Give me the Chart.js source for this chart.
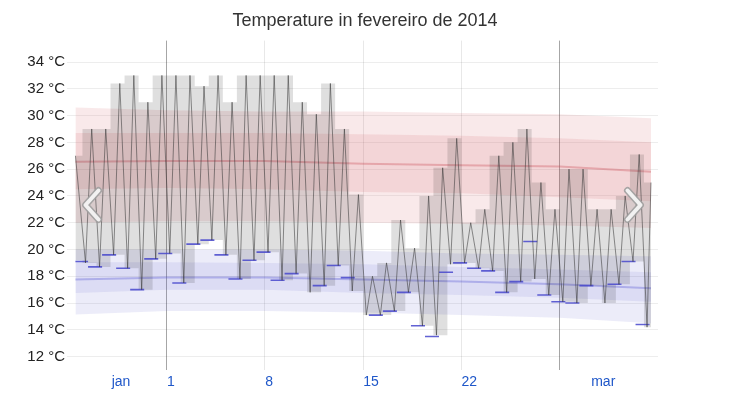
<!DOCTYPE html>
<html>
<head>
<meta charset="utf-8">
<script src="https://cdn.jsdelivr.net/npm/chart.js@4.4.1/dist/chart.umd.min.js"></script>
<style>
  html, body { margin: 0; padding: 0; background: #fff; }
  #wrap { width: 730px; height: 399px; }
</style>
</head>
<body>
<div id="wrap"><canvas id="chart" width="730" height="399"></canvas></div>
<script>
// x values are days counted from 1 Feb 2014 00:00; first list entry is 25 Jan
const firstDay = -7
const dataStart = -6.5
const dataEnd = 34.5

// daily range of reported temperatures (gray bars), °C, 25 Jan .. 7 Mar
const dayHigh = [27.0, 29.0, 29.0, 32.4, 33.0, 31.0, 33.0,
  33.0, 33.0, 32.2, 33.0, 31.0, 33.0, 33.0,
  33.0, 33.0, 31.0, 30.1, 32.4, 29.0, 24.1,
  18.0, 19.0, 22.2, 20.1, 24.0, 26.1, 28.3,
  22.0, 23.0, 27.0, 28.0, 29.0, 25.0, 23.0,
  26.0, 26.0, 23.0, 23.0, 24.0, 27.1, 25.0]
const dayLow = [19.2, 19.0, 18.7, 19.6, 18.6, 17.0, 19.3,
  19.7, 17.5, 20.4, 20.7, 19.6, 17.8, 19.2,
  19.8, 17.7, 18.2, 16.8, 17.3, 18.8, 16.9,
  15.1, 15.1, 15.4, 16.8, 14.3, 13.6, 18.9,
  19.0, 18.6, 18.4, 16.8, 17.6, 17.8, 16.6,
  16.1, 16.0, 17.3, 16.0, 17.4, 19.1, 14.2]

// 24-hour lows (blue ticks), one per window starting 25 Jan; null = none shown
const low24 = [19.1, 18.7, 19.6, 18.6, 17.0, 19.3, 19.7,
  17.5, 20.4, 20.7, 19.6, 17.8, 19.2, 19.8,
  17.7, 18.2, null, 17.3, 18.8, 17.9, null,
  15.1, 15.4, 16.8, 14.3, 13.5, 18.3, 19.0,
  18.6, 18.4, 16.8, 17.6, 20.6, 16.6, 16.1,
  16.0, 17.3, null, 17.4, 19.1, 14.4]
const lowWindowStart = 0.4

// average high / low with 25-75 and 10-90 percentile bands, read weekly
const normalDays = [-6.5, 0, 7, 14, 21, 28, 34.5]
const highP90 = [30.6, 30.4, 30.3, 30.3, 30.2, 30.1, 29.8]
const highP75 = [28.7, 28.7, 28.7, 28.6, 28.5, 28.3, 28.0]
const highAvg = [26.55, 26.6, 26.6, 26.4, 26.3, 26.2, 25.8]
const highP25 = [24.5, 24.6, 24.5, 24.3, 24.2, 23.9, 23.6]
const highP10 = [22.0, 22.1, 22.1, 22.0, 21.9, 21.8, 21.6]
const lowP90 = [20.0, 20.0, 20.0, 19.9, 19.7, 19.6, 19.5]
const lowP75 = [19.05, 19.05, 19.0, 18.9, 18.7, 18.5, 18.3]
const lowAvg = [17.75, 17.9, 17.9, 17.75, 17.6, 17.4, 17.1]
const lowP25 = [16.75, 17.0, 17.0, 16.75, 16.6, 16.4, 16.1]
const lowP10 = [15.15, 15.4, 15.4, 15.3, 15.1, 14.9, 14.5]

const yTicks = [12, 14, 16, 18, 20, 22, 24, 26, 28, 30, 32, 34]
const xLabels = ['jan', '1', '8', '15', '22', 'mar']
const xLabelDays = [-3.25, 0.3, 7.3, 14.55, 21.55, 31.1]
const weekLines = [7, 14, 21]
const monthLines = [0, 28]

// hourly trace: morning low and afternoon high of each day
const lowHour = 0.22
const highHour = 0.66
const hourly = []
dayHigh.forEach((h, i) => {
  const d = firstDay + i
  const tLow = d + lowHour
  const tHigh = d + highHour
  if (tLow >= dataStart) hourly.push({x: tLow, y: dayLow[i]})
  else hourly.push({x: dataStart, y: h})
  if (tLow >= dataStart) hourly.push({x: Math.min(tHigh, dataEnd), y: h})
})

const stepPoints = (vals) => {
  const pts = vals.map((v, i) => ({x: Math.max(firstDay + i, dataStart), y: v}))
  pts.push({x: dataEnd, y: vals[vals.length - 1]})
  return pts
}

const lowTicks = []
low24.forEach((v, i) => {
  if (v === null) return
  const s = firstDay + i + lowWindowStart
  lowTicks.push({x: Math.max(s, dataStart), y: v}, {x: s + 1, y: v}, {x: s + 1, y: null})
})

const normal = (vals) => vals.map((v, i) => ({x: normalDays[i], y: v}))

const redBand = 'rgba(205, 70, 80, 0.12)'
const blueBand = 'rgba(80, 80, 200, 0.11)'
const font = '"Liberation Sans", Arial, sans-serif'

const band = (vals, fillTo, color, order) => ({
  data: normal(vals), borderWidth: 0, pointRadius: 0,
  fill: fillTo === null ? false : fillTo, backgroundColor: color, order: order
})

const arrows = {
  id: 'arrows',
  afterDraw(chart) {
    const ctx = chart.ctx
    const draw = (pts) => {
      ctx.save()
      ctx.lineJoin = 'round'
      ctx.lineCap = 'round'
      ctx.beginPath()
      pts.forEach(([x, y], i) => i ? ctx.lineTo(x, y) : ctx.moveTo(x, y))
      ctx.strokeStyle = 'rgba(160,160,160,0.9)'
      ctx.lineWidth = 7
      ctx.stroke()
      ctx.strokeStyle = 'rgba(255,255,255,0.85)'
      ctx.lineWidth = 4
      ctx.stroke()
      ctx.restore()
    }
    draw([[98.5, 190.5], [85.5, 205], [98.5, 219.5]])
    draw([[627.5, 190.5], [640.5, 205], [627.5, 219.5]])
  }
}

const ctx = document.getElementById('chart').getContext('2d')
const myChart = new Chart(ctx, {
  type: 'line',
  data: {
    datasets: [
      // 0 hourly temperature
      { data: hourly, borderColor: 'rgba(55,55,55,0.55)', borderWidth: 1, pointRadius: 0, order: 0 },
      // 1 24-hour lows
      { data: lowTicks, borderColor: 'rgba(70,70,205,0.85)', borderWidth: 1.6, pointRadius: 0, spanGaps: false, order: 1 },
      // 2,3 daily range
      { data: stepPoints(dayHigh), stepped: true, borderWidth: 0, pointRadius: 0, fill: false, order: 2 },
      { data: stepPoints(dayLow), stepped: true, borderWidth: 0, pointRadius: 0, fill: 2,
        backgroundColor: 'rgba(0,0,0,0.125)', order: 2 },
      // 4,5 average high / low
      { data: normal(highAvg), borderColor: 'rgba(200,70,80,0.33)', borderWidth: 2, pointRadius: 0, order: 3 },
      { data: normal(lowAvg), borderColor: 'rgba(80,80,210,0.33)', borderWidth: 2, pointRadius: 0, order: 3 },
      // 6..9 high bands
      band(highP75, null, redBand, 4),
      band(highP25, 6, redBand, 4),
      band(highP90, null, redBand, 5),
      band(highP10, 8, redBand, 5),
      // 10..13 low bands
      band(lowP75, null, blueBand, 4),
      band(lowP25, 10, blueBand, 4),
      band(lowP90, null, blueBand, 5),
      band(lowP10, 12, blueBand, 5)
    ]
  },
  options: {
    responsive: false,
    animation: false,
    layout: { padding: 0 },
    plugins: {
      legend: { display: false },
      tooltip: { enabled: false },
      title: {
        display: true,
        text: 'Temperature in fevereiro de 2014',
        color: '#333',
        font: { family: font, size: 18, weight: 'normal' },
        padding: { top: 10, bottom: 9 }
      }
    },
    scales: {
      x: {
        type: 'linear',
        min: -7.1,
        max: 35.0,
        border: { display: false },
        afterBuildTicks: (scale) => {
          const t = xLabelDays.map(v => ({value: v}))
            .concat(weekLines.concat(monthLines).map(v => ({value: v})))
          t.sort((a, b) => a.value - b.value)
          scale.ticks = t
        },
        afterFit: (scale) => { scale.height = 29 },
        grid: {
          drawTicks: false,
          color: (c) => {
            const v = c.tick ? c.tick.value : null
            if (monthLines.includes(v)) return 'rgba(0,0,0,0.35)'
            if (weekLines.includes(v)) return 'rgba(0,0,0,0.09)'
            return 'rgba(0,0,0,0)'
          }
        },
        ticks: {
          autoSkip: false,
          maxRotation: 0,
          padding: 4,
          color: '#1f57c9',
          font: { family: font, size: 14 },
          callback: (v) => {
            const i = xLabelDays.indexOf(v)
            return i >= 0 ? xLabels[i] : ''
          }
        }
      },
      y: {
        min: 11,
        max: 35.6,
        border: { display: false },
        afterBuildTicks: (scale) => { scale.ticks = yTicks.map(v => ({value: v})) },
        afterFit: (scale) => { scale.width = 67 },
        grid: { drawTicks: false, color: 'rgba(0,0,0,0.07)' },
        ticks: {
          padding: 2,
          color: '#222',
          font: { family: font, size: 15 },
          callback: (v) => v + ' °C'
        }
      },
      // empty right margin, keeps the title centred on the page
      yRight: {
        position: 'right',
        display: true,
        border: { display: false },
        grid: { display: false },
        ticks: { display: false },
        afterFit: (scale) => { scale.width = 72 }
      }
    }
  },
  plugins: [arrows]
})
</script>
</body>
</html>
